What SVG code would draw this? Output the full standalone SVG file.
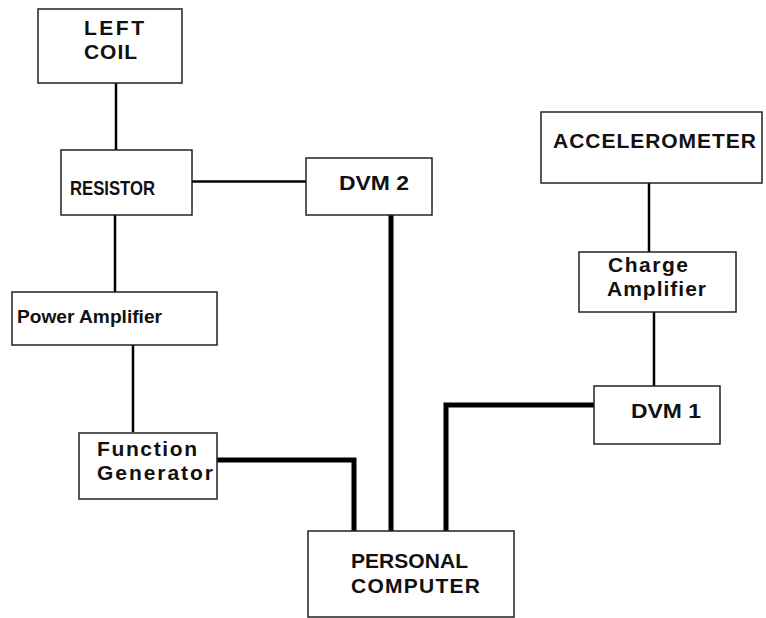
<svg xmlns="http://www.w3.org/2000/svg" width="766" height="618" viewBox="0 0 766 618">
<style>
.box{fill:#fff;stroke:#222;stroke-width:1.5}
.t{font-family:"Liberation Sans",Arial,sans-serif;font-weight:bold;fill:#111}
.thin{stroke:#000;stroke-width:2.5;fill:none}
.thick{stroke:#000;stroke-width:5;fill:none}
</style>
<rect width="766" height="618" fill="#fff"/>
<g id="connectors">
<line class="thin" x1="116" y1="83" x2="116" y2="150"/>
<line class="thin" x1="192" y1="181.5" x2="306" y2="181.5"/>
<line class="thin" x1="115" y1="215" x2="115" y2="292"/>
<line class="thin" x1="133" y1="345" x2="133" y2="432"/>
<line class="thin" x1="649" y1="183" x2="649" y2="252"/>
<line class="thin" x1="654" y1="312" x2="654" y2="386"/>
<line class="thick" x1="391" y1="215" x2="391" y2="531"/>
<polyline class="thick" points="217,460 354,460 354,531"/>
<polyline class="thick" points="446,531 446,405 594,405"/>
</g>
<g id="left-coil">
<rect class="box" x="38" y="9" width="144" height="74"/>
<text class="t" x="84" y="35" font-size="21" textLength="60" lengthAdjust="spacing">LEFT</text>
<text class="t" x="84" y="59" font-size="21" textLength="53" lengthAdjust="spacing">COIL</text>
</g>
<g id="resistor">
<rect class="box" x="61" y="150" width="131" height="65"/>
<text class="t" x="70" y="195" font-size="21" textLength="85" lengthAdjust="spacingAndGlyphs">RESISTOR</text>
</g>
<g id="dvm2">
<rect class="box" x="306" y="158" width="126" height="57"/>
<text class="t" x="339" y="190" font-size="21" textLength="70" lengthAdjust="spacingAndGlyphs">DVM 2</text>
</g>
<g id="power-amplifier">
<rect class="box" x="12" y="292" width="205" height="53"/>
<text class="t" x="17" y="323" font-size="19" textLength="145" lengthAdjust="spacingAndGlyphs">Power Amplifier</text>
</g>
<g id="function-generator">
<rect class="box" x="79" y="433" width="138" height="66"/>
<text class="t" x="97" y="456" font-size="21" textLength="100" lengthAdjust="spacing">Function</text>
<text class="t" x="97" y="480" font-size="21" textLength="116" lengthAdjust="spacing">Generator</text>
</g>
<g id="personal-computer">
<rect class="box" x="308" y="531" width="206" height="86"/>
<text class="t" x="351" y="568" font-size="21" textLength="117" lengthAdjust="spacing">PERSONAL</text>
<text class="t" x="351" y="593" font-size="21" textLength="129" lengthAdjust="spacing">COMPUTER</text>
</g>
<g id="accelerometer">
<rect class="box" x="541" y="112" width="221" height="71"/>
<text class="t" x="553" y="148" font-size="21" textLength="203" lengthAdjust="spacing">ACCELEROMETER</text>
</g>
<g id="charge-amplifier">
<rect class="box" x="579" y="252" width="157" height="60"/>
<text class="t" x="608" y="272" font-size="21" textLength="80" lengthAdjust="spacing">Charge</text>
<text class="t" x="607" y="296" font-size="21" textLength="99" lengthAdjust="spacing">Amplifier</text>
</g>
<g id="dvm1">
<rect class="box" x="594" y="386" width="126" height="58"/>
<text class="t" x="631" y="418" font-size="21" textLength="70" lengthAdjust="spacingAndGlyphs">DVM 1</text>
</g>
</svg>
